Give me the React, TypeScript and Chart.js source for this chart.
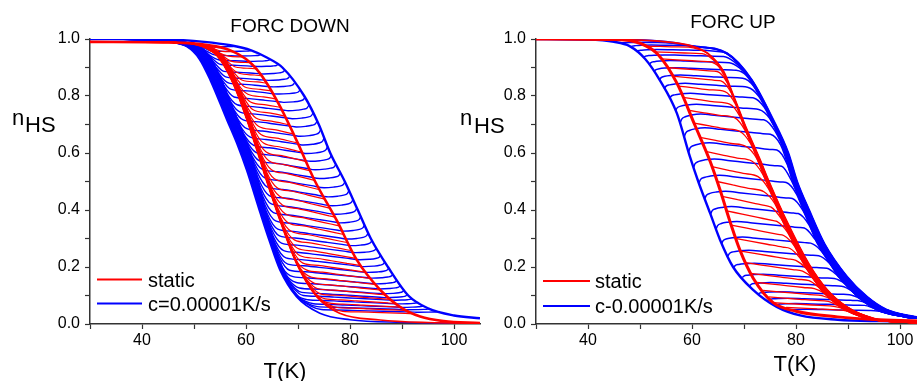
import React, { useEffect, useRef } from "react";
import { Chart, registerables } from "chart.js";

Chart.register(...registerables);

// ================= DATA =================
// Temperature axis range and tick labels
const T_MIN = 30;
const T_MAX = 105;
const xTickLabels = [40, 60, 80, 100];
const yTickLabels = [0, 0.2, 0.4, 0.6, 0.8, 1.0];

const panelTitles = ["FORC DOWN", "FORC UP"];
const yLabelParts = ["n", "HS"];
const xLabel = "T(K)";
const legendDown = ["static", "c=0.00001K/s"];
const legendUp = ["static", "c-0.00001K/s"];

// ---- FORC DOWN : major branches ----
const downBlueWarmT = [30, 45, 52, 57, 61, 64, 67, 71.2, 74, 76.2, 79, 81.5, 84, 87.3, 91.2, 95, 100, 105];
const downBlueWarmN = [1.0, 0.998, 0.99, 0.978, 0.96, 0.935, 0.9, 0.8, 0.7, 0.6, 0.5, 0.4, 0.3, 0.2, 0.1, 0.055, 0.03, 0.02];
const downBlueCoolT = [30, 40, 45, 48.6, 51, 53.1, 56.3, 58.3, 60.1, 62.7, 64.5, 66.5, 69.7, 74.2, 80, 90, 105];
const downBlueCoolN = [1.0, 0.998, 0.99, 0.973, 0.93, 0.856, 0.716, 0.63, 0.54, 0.39, 0.29, 0.19, 0.096, 0.038, 0.015, 0.006, 0.003];
const downRedWarmT = [30, 45, 50, 54, 57, 60, 62, 64, 66.5, 69.7, 73.3, 77.4, 81.3, 85.8, 89.6, 93.5, 98, 105];
const downRedWarmN = [0.99, 0.988, 0.984, 0.975, 0.96, 0.93, 0.895, 0.845, 0.765, 0.645, 0.5, 0.365, 0.225, 0.12, 0.06, 0.026, 0.01, 0.003];
const downRedCoolT = [30, 45, 50, 52.4, 54.5, 56.3, 58.3, 60.1, 62.7, 64, 66.5, 69.7, 73.6, 78, 85.8, 95, 105];
const downRedCoolN = [0.99, 0.988, 0.982, 0.968, 0.94, 0.89, 0.81, 0.72, 0.575, 0.5, 0.365, 0.213, 0.096, 0.038, 0.014, 0.005, 0.003];

// reversal levels of the first-order reversal curves (FORC DOWN)
const downBlueLevels = [0.975, 0.96, 0.945, 0.928, 0.91, 0.89, 0.868, 0.845, 0.82, 0.795, 0.768, 0.74, 0.712, 0.683, 0.653, 0.623, 0.592, 0.561, 0.53, 0.499, 0.468, 0.437, 0.407, 0.377, 0.348, 0.32, 0.293, 0.267, 0.242, 0.218, 0.196, 0.175, 0.155, 0.137, 0.12, 0.104, 0.09, 0.077, 0.065, 0.054, 0.044];
const downRedLevels = [0.97, 0.955, 0.937, 0.917, 0.895, 0.871, 0.845, 0.818, 0.79, 0.76, 0.73, 0.699, 0.667, 0.635, 0.603, 0.57, 0.537, 0.504, 0.471, 0.438, 0.406, 0.375, 0.344, 0.314, 0.285, 0.257, 0.23, 0.205, 0.181, 0.159, 0.138, 0.119, 0.102, 0.086, 0.072, 0.059, 0.047, 0.036];
// spread of the cooling bundle (K) versus reversal level
const downBlueShiftLevel = [0, 0.2, 0.5, 0.8, 0.9, 1.0];
const downBlueShiftK = [0, 0.9, 2.0, 2.2, 2.5, 3.2];
const downRedShiftLevel = [0, 0.5, 1.0];
const downRedShiftK = [0, 0.6, 1.2];

// ---- FORC UP : major branches ----
const upBlueCoolT = [30, 40, 45, 48, 51, 53.8, 57.1, 59.6, 61.2, 63.5, 65.4, 67.9, 71.8, 76.3, 80.8, 88, 96, 105];
const upBlueCoolN = [1.0, 0.998, 0.99, 0.975, 0.93, 0.856, 0.739, 0.587, 0.5, 0.388, 0.295, 0.2, 0.119, 0.06, 0.03, 0.015, 0.01, 0.008];
const upBlueWarmT = [30, 45, 55, 60, 66.7, 71.5, 75.5, 78.5, 80.2, 82.5, 85.5, 89.8, 93.6, 97.4, 102.5, 105];
const upBlueWarmN = [1.0, 0.998, 0.99, 0.975, 0.95, 0.856, 0.72, 0.6, 0.5, 0.4, 0.28, 0.166, 0.096, 0.05, 0.026, 0.02];
const upRedCoolT = [30, 45, 50, 53.5, 57.1, 60.5, 63.5, 65.4, 67.3, 69.2, 71.8, 75.6, 80, 88, 96, 105];
const upRedCoolN = [1.0, 0.998, 0.985, 0.945, 0.845, 0.7, 0.57, 0.47, 0.36, 0.26, 0.16, 0.075, 0.045, 0.025, 0.015, 0.01];
const upRedWarmT = [30, 45, 55, 60, 63, 66.1, 68, 70.6, 73, 74.8, 78.5, 82.5, 86, 89.8, 94.9, 100, 105];
const upRedWarmN = [1.0, 0.998, 0.99, 0.975, 0.95, 0.885, 0.8, 0.68, 0.58, 0.5, 0.35, 0.21, 0.12, 0.06, 0.02, 0.008, 0.004];

const upBlueLevels = [0.985, 0.972, 0.955, 0.935, 0.91, 0.885, 0.857, 0.825, 0.79, 0.748, 0.703, 0.655, 0.603, 0.549, 0.494, 0.439, 0.385, 0.333, 0.283, 0.238, 0.198, 0.163, 0.134, 0.106, 0.083, 0.065, 0.048];
const upRedLevels = [0.975, 0.955, 0.93, 0.9, 0.87, 0.835, 0.795, 0.75, 0.705, 0.655, 0.605, 0.552, 0.5, 0.448, 0.397, 0.347, 0.3, 0.256, 0.215, 0.178, 0.146, 0.118, 0.095, 0.075, 0.058];
const upBlueShiftLevel = [0, 0.2, 0.5, 0.8, 1.0];
const upBlueShiftK = [2.0, 1.7, 1.1, 0.4, 0];
const upRedShiftLevel = [0, 0.5, 1.0];
const upRedShiftK = [1.5, 0.8, 0];

// inner-segment tilt (n per K at mid level) and dynamic lag (K)
const downBlueTilt = 0.003;
const downRedTilt = 0.0045;
const upBlueTilt = 0.002;
const upRedTilt = 0.004;
const blueLag = 0.55;

// ================= helpers =================
type P = { x: number; y: number };
const hookDT = [0.3, 1.0, 2.2, 4.0];
const hookFrac = [0.45, 0.72, 0.9, 1.0];

function lerp(xs: number[], ys: number[], x: number): number {
  const n = xs.length;
  if (x <= xs[0]) return ys[0];
  if (x >= xs[n - 1]) return ys[n - 1];
  for (let i = 1; i < n; i++) {
    if (x <= xs[i]) {
      const t = (x - xs[i - 1]) / (xs[i] - xs[i - 1]);
      return ys[i - 1] + t * (ys[i] - ys[i - 1]);
    }
  }
  return ys[n - 1];
}
function tAtLevel(xs: number[], ys: number[], y: number): number {
  for (let i = 1; i < xs.length; i++) {
    if (ys[i] <= y) {
      const den = ys[i - 1] - ys[i] || 1;
      const t = (ys[i - 1] - y) / den;
      return xs[i - 1] + t * (xs[i] - xs[i - 1]);
    }
  }
  return xs[xs.length - 1];
}
function steep(xs: number[], ys: number[], x: number): number {
  return Math.abs(lerp(xs, ys, x - 0.5) - lerp(xs, ys, x + 0.5));
}
function root(g: (t: number) => number, lo: number, hi: number): number {
  let glo = g(lo);
  for (let i = 0; i < 40; i++) {
    const m = (lo + hi) / 2;
    const gm = g(m);
    if (gm > 0 === glo > 0) {
      lo = m;
      glo = gm;
    } else hi = m;
  }
  return (lo + hi) / 2;
}

function downForc(L: number, coolT: number[], coolN: number[], warmT: number[], warmN: number[], shift: number, tilt: number, lag: number): P[] {
  const Tr = tAtLevel(warmT, warmN, L);
  const d = lag > 0 ? steep(warmT, warmN, Tr) * lag : 0;
  const w = lag > 0 ? hookDT[hookDT.length - 1] : 0;
  const fT = Tr - w;
  const fN = L - d;
  const k = tilt * 4 * L * (1 - L);
  const flat = (T: number) => fN + k * (fT - T);
  const branch = (T: number) => lerp(coolT, coolN, T - shift);
  const g = (T: number) => branch(T) - flat(T);
  const Tj = g(fT) >= 0 ? fT : root(g, T_MIN, fT);
  const pts: P[] = [{ x: T_MIN, y: branch(T_MIN) }];
  for (let i = 0; i < coolT.length; i++) {
    const T = coolT[i] + shift;
    if (T > T_MIN + 0.2 && T < Tj - 1.8) pts.push({ x: T, y: coolN[i] });
  }
  if (Tj - 0.9 > pts[pts.length - 1].x) pts.push({ x: Tj - 0.9, y: branch(Tj - 0.9) });
  for (let T = Tj + 1.1; T < fT - 0.6; T += 3) pts.push({ x: T, y: flat(T) });
  pts.push({ x: fT, y: fN });
  if (lag > 0) {
    for (let j = hookDT.length - 2; j >= 0; j--) pts.push({ x: Tr - hookDT[j], y: L - d * hookFrac[j] });
    pts.push({ x: Tr, y: L });
  }
  return pts;
}

function upForc(L: number, coolT: number[], coolN: number[], warmT: number[], warmN: number[], shift: number, tilt: number, lag: number): P[] {
  const Tr = tAtLevel(coolT, coolN, L);
  const d = lag > 0 ? steep(coolT, coolN, Tr) * lag : 0;
  const w = lag > 0 ? hookDT[hookDT.length - 1] : 0;
  const fT = Tr + w;
  const fN = L + d;
  const k = tilt * 4 * L * (1 - L);
  const flat = (T: number) => fN - k * (T - fT);
  const branch = (T: number) => lerp(warmT, warmN, T + shift);
  const g = (T: number) => branch(T) - flat(T);
  let Tj = T_MAX;
  if (g(fT) <= 0) Tj = fT;
  else {
    for (let T = fT; T <= T_MAX; T += 0.5) {
      if (g(T) <= 0) {
        Tj = root(g, T - 0.5, T);
        break;
      }
    }
  }
  const pts: P[] = [{ x: Tr, y: L }];
  if (lag > 0) {
    for (let j = 0; j < hookDT.length - 1; j++) pts.push({ x: Tr + hookDT[j], y: L + d * hookFrac[j] });
    pts.push({ x: fT, y: fN });
  }
  if (Tj >= T_MAX) {
    for (let T = fT + 3; T < T_MAX; T += 3) pts.push({ x: T, y: flat(T) });
    pts.push({ x: T_MAX, y: Math.max(flat(T_MAX), 0.004) });
    return pts;
  }
  for (let T = fT + 3; T < Tj - 1.1; T += 3) pts.push({ x: T, y: flat(T) });
  if (Tj - 1.1 > pts[pts.length - 1].x + 0.2) pts.push({ x: Tj - 1.1, y: flat(Tj - 1.1) });
  const c = Tj + 0.9;
  if (c > pts[pts.length - 1].x) pts.push({ x: c, y: branch(c) });
  for (let i = 0; i < warmT.length; i++) {
    const T = warmT[i] - shift;
    if (T > Tj + 1.8 && T < T_MAX - 0.2) pts.push({ x: T, y: warmN[i] });
  }
  pts.push({ x: T_MAX, y: branch(T_MAX) });
  return pts;
}

const BLUE = "#0000FF";
const RED = "#FF0000";

function line(data: P[], color: string, width: number, order: number) {
  return {
    data,
    borderColor: color,
    backgroundColor: color,
    borderWidth: width,
    pointRadius: 0,
    fill: false,
    order,
    cubicInterpolationMode: "monotone" as const,
  };
}
function branchPts(ts: number[], ns: number[]): P[] {
  return ts.map((t, i) => ({ x: t, y: ns[i] }));
}

function downDatasets() {
  const ds: any[] = [];
  downRedLevels.forEach((L) => {
    const s = lerp(downRedShiftLevel, downRedShiftK, L);
    ds.push(line(downForc(L, downRedCoolT, downRedCoolN, downRedWarmT, downRedWarmN, s, downRedTilt, 0), RED, 1.2, 0));
  });
  ds.push(line(branchPts(downRedCoolT, downRedCoolN), RED, 1.6, 0));
  ds.push(line(branchPts(downRedWarmT, downRedWarmN), RED, 2.6, 0));
  downBlueLevels.forEach((L) => {
    const s = lerp(downBlueShiftLevel, downBlueShiftK, L);
    ds.push(line(downForc(L, downBlueCoolT, downBlueCoolN, downBlueWarmT, downBlueWarmN, s, downBlueTilt, blueLag), BLUE, 1.4, 1));
  });
  ds.push(line(branchPts(downBlueCoolT, downBlueCoolN), BLUE, 1.6, 1));
  ds.push(line(branchPts(downBlueWarmT, downBlueWarmN), BLUE, 2.4, 1));
  return ds;
}
function upDatasets() {
  const ds: any[] = [];
  upRedLevels.forEach((L) => {
    const s = lerp(upRedShiftLevel, upRedShiftK, L);
    ds.push(line(upForc(L, upRedCoolT, upRedCoolN, upRedWarmT, upRedWarmN, s, upRedTilt, 0), RED, 1.3, 0));
  });
  ds.push(line(branchPts(upRedWarmT, upRedWarmN), RED, 1.8, 0));
  ds.push(line(branchPts(upRedCoolT, upRedCoolN), RED, 3, 0));
  upBlueLevels.forEach((L) => {
    const s = lerp(upBlueShiftLevel, upBlueShiftK, L);
    ds.push(line(upForc(L, upBlueCoolT, upBlueCoolN, upBlueWarmT, upBlueWarmN, s, upBlueTilt, blueLag), BLUE, 1.5, 1));
  });
  ds.push(line(branchPts(upBlueWarmT, upBlueWarmN), BLUE, 2.2, 1));
  ds.push(line(branchPts(upBlueCoolT, upBlueCoolN), BLUE, 2.4, 1));
  return ds;
}

const FONT = '"Liberation Sans", Arial, sans-serif';

type Decor = {
  title: string; titleX: number; titleY: number;
  nX: number; nY: number; hsX: number; hsY: number;
  xlX: number; xlY: number;
  legend: string[]; legX0: number; legX1: number; legY: number[]; legTextX: number; legTextY: number[];
};

function decorPlugin(c: Decor) {
  return {
    id: "decor",
    afterDraw(chart: any) {
      const ctx = chart.ctx as CanvasRenderingContext2D;
      ctx.save();
      ctx.fillStyle = "#000";
      ctx.textBaseline = "alphabetic";
      ctx.textAlign = "center";
      ctx.font = `19px ${FONT}`;
      ctx.fillText(c.title, c.titleX, c.titleY);
      ctx.font = `22px ${FONT}`;
      ctx.fillText(xLabel, c.xlX, c.xlY);
      ctx.textAlign = "left";
      ctx.fillText(yLabelParts[0], c.nX, c.nY);
      ctx.fillText(yLabelParts[1], c.hsX, c.hsY);
      const colors = [RED, BLUE];
      ctx.font = `20px ${FONT}`;
      c.legend.forEach((lab, i) => {
        ctx.strokeStyle = colors[i];
        ctx.lineWidth = 2;
        ctx.beginPath();
        ctx.moveTo(c.legX0, c.legY[i]);
        ctx.lineTo(c.legX1, c.legY[i]);
        ctx.stroke();
        ctx.fillText(lab, c.legTextX, c.legTextY[i]);
      });
      ctx.restore();
    },
  };
}

function makeOptions(padLeft: number, yWidth: number, padRight: number) {
  const tickFont = { family: FONT, size: 16 };
  return {
    responsive: false,
    animation: false as const,
    events: [] as any[],
    layout: { padding: { left: padLeft, right: padRight, top: 39, bottom: 27 } },
    plugins: { legend: { display: false }, title: { display: false }, tooltip: { enabled: false } },
    scales: {
      x: {
        type: "linear" as const,
        min: T_MIN,
        max: T_MAX,
        afterFit: (s: any) => { s.height = 30; },
        border: { display: true, color: "#333", width: 1.5 },
        grid: { display: true, drawOnChartArea: false, drawTicks: true, tickLength: 5, color: "#333", tickWidth: 1.2 },
        ticks: {
          stepSize: 10, includeBounds: false, autoSkip: false, maxRotation: 0, padding: 2, color: "#000", font: tickFont,
          callback: (v: any) => (xTickLabels.includes(Number(v)) ? String(v) : ""),
        },
      },
      y: {
        type: "linear" as const,
        min: 0,
        max: 1,
        afterFit: (s: any) => { s.width = yWidth; },
        border: { display: true, color: "#333", width: 1.5 },
        grid: { display: true, drawOnChartArea: false, drawTicks: true, tickLength: 5, color: "#333", tickWidth: 1.2 },
        ticks: {
          stepSize: 0.1, autoSkip: false, padding: 5, color: "#000", font: tickFont,
          callback: (v: any) => {
            const r = Math.round(Number(v) * 10) / 10;
            return yTickLabels.some((t) => Math.abs(t - r) < 1e-6) ? r.toFixed(1) : "";
          },
        },
      },
    },
  };
}

const CW = 940;
const CH = 381;

export default function App() {
  const leftRef = useRef<HTMLCanvasElement | null>(null);
  const rightRef = useRef<HTMLCanvasElement | null>(null);

  useEffect(() => {
    document.body.style.margin = "0";
    const left = new Chart(leftRef.current as HTMLCanvasElement, {
      type: "line",
      data: { datasets: downDatasets() },
      options: makeOptions(0, 90, CW - 480) as any,
      plugins: [
        decorPlugin({
          title: panelTitles[0], titleX: 290, titleY: 32,
          nX: 12, nY: 125, hsX: 25, hsY: 132,
          xlX: 285, xlY: 378,
          legend: legendDown, legX0: 97, legX1: 142, legY: [279.5, 303.5], legTextX: 148, legTextY: [286.5, 311],
        }),
      ],
    });
    const right = new Chart(rightRef.current as HTMLCanvasElement, {
      type: "line",
      data: { datasets: upDatasets() },
      options: makeOptions(457, 79, CW - 926) as any,
      plugins: [
        decorPlugin({
          title: panelTitles[1], titleX: 733, titleY: 27.5,
          nX: 460, nY: 125, hsX: 474, hsY: 133,
          xlX: 795, xlY: 371,
          legend: legendUp, legX0: 543, legX1: 590, legY: [281, 306], legTextX: 595, legTextY: [288, 313],
        }),
      ],
    });
    return () => {
      left.destroy();
      right.destroy();
    };
  }, []);

  return (
    <div style={{ position: "fixed", left: 0, top: 0, width: 917, height: 381, overflow: "hidden", background: "#fff" }}>
      <canvas ref={leftRef} width={CW} height={CH} style={{ position: "absolute", left: 0, top: 0, width: CW, height: CH }} />
      <canvas ref={rightRef} width={CW} height={CH} style={{ position: "absolute", left: 0, top: 0, width: CW, height: CH }} />
    </div>
  );
}
